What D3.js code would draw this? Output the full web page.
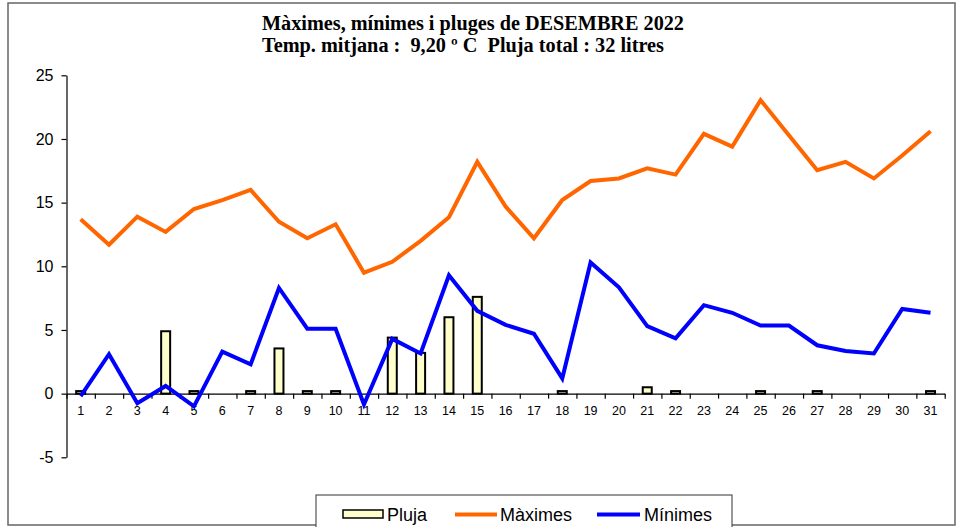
<!DOCTYPE html>
<html>
<head>
<meta charset="utf-8">
<script src="https://cdn.jsdelivr.net/npm/d3@7"></script>
<style>
  body { margin: 0; background: #fff; }
  svg { display: block; }
  .tick text { font-family: Arial, "Liberation Sans", sans-serif; fill: #000; }
</style>
</head>
<body>
<svg id="chart" width="962" height="527"></svg>
<script>
// Data
const days = d3.range(1, 32).map(String);
const maximes = [13.7, 11.7, 13.9, 12.7, 14.5, 15.2, 16.0, 13.5, 12.2, 13.3,
  9.5, 10.35, 12.0, 13.85, 18.2, 14.7, 12.2, 15.2, 16.7, 16.9,
  17.7, 17.2, 20.4, 19.4, 23.05, 20.3, 17.55, 18.2, 16.9, 18.7, 20.6];
const minimes = [-0.2, 3.1, -0.75, 0.6, -1.0, 3.3, 2.3, 8.3, 5.1, 5.1,
  -0.85, 4.3, 3.15, 9.3, 6.5, 5.4, 4.7, 1.2, 10.3, 8.35,
  5.3, 4.35, 6.95, 6.35, 5.35, 5.35, 3.8, 3.35, 3.15, 6.65, 6.35];
const pluja = [0.2, 0, 0, 4.9, 0.2, 0, 0.2, 3.55, 0.2, 0.2,
  0, 4.4, 3.2, 6.0, 7.6, 0, 0, 0.2, 0, 0,
  0.5, 0.2, 0, 0, 0.2, 0, 0.2, 0, 0, 0, 0.2];
const yTicks = [-5, 0, 5, 10, 15, 20, 25];
const titleLines = ["Màximes, mínimes i pluges de DESEMBRE 2022",
  "Temp. mitjana :  9,20 º C  Pluja total : 32 litres"];
const legendLabels = ["Pluja", "Màximes", "Mínimes"];

const colMax = "#ff6600", colMin = "#0000ff", colBar = "#ffffcc";

const svg = d3.select("#chart");

// outer frame
svg.append("rect")
  .attr("x", 8).attr("y", 3).attr("width", 947).attr("height", 522)
  .attr("fill", "none").attr("stroke", "#666").attr("stroke-width", 1.5);

// title
svg.selectAll("text.title").data(titleLines).join("text")
  .attr("class", "title")
  .attr("x", 262)
  .attr("y", (d, i) => i ? 52 : 30)
  .attr("textLength", (d, i) => i ? 402 : 422)
  .attr("lengthAdjust", "spacingAndGlyphs")
  .style("font-family", "'Liberation Serif', 'Times New Roman', serif")
  .style("font-weight", "bold")
  .style("font-size", "20px")
  .style("white-space", "pre")
  .attr("xml:space", "preserve")
  .text(d => d);

// scales
const x = d3.scaleBand().domain(days).range([66.5, 944.7]).padding(0);
const xEdge = d3.scaleLinear().domain([0, days.length]).range(x.range());
const y = d3.scaleLinear().domain([-5, 25]).range([457.3, 75.3]);

// y axis
svg.append("g")
  .attr("transform", "translate(66.5,0)")
  .call(d3.axisLeft(y).tickValues(yTicks).tickFormat(d => String(d)).tickSize(5).tickSizeOuter(0).tickPadding(8))
  .call(g => g.selectAll("text").style("font-size", "16px"))
  .call(g => g.selectAll("line, path").attr("stroke", "#000").attr("stroke-width", 1.2));

// x axis: boundary ticks
svg.append("g")
  .attr("transform", "translate(0," + y(0) + ")")
  .call(d3.axisBottom(xEdge).tickValues(d3.range(0, days.length + 1)).tickFormat("").tickSize(5).tickSizeOuter(0))
  .call(g => g.selectAll("line, path").attr("stroke", "#000").attr("stroke-width", 1.2));

// x axis: labels
svg.append("g")
  .attr("transform", "translate(0," + y(0) + ")")
  .call(d3.axisBottom(x).tickSize(0).tickPadding(12))
  .call(g => g.select(".domain").remove())
  .call(g => g.selectAll("text").style("font-size", "12.5px"));

// bars (pluja)
const bw = 9;
svg.append("g").selectAll("rect").data(pluja.map((v, i) => ({ d: days[i], v })).filter(p => p.v > 0))
  .join("rect")
  .attr("x", p => x(p.d) + x.bandwidth() / 2 - bw / 2)
  .attr("y", p => y(p.v))
  .attr("width", bw)
  .attr("height", p => y(0) - y(p.v))
  .attr("fill", colBar)
  .attr("stroke", "#000")
  .attr("stroke-width", 2);

// lines
const line = d3.line()
  .x((v, i) => x(days[i]) + x.bandwidth() / 2)
  .y(v => y(v));

svg.append("path").datum(maximes)
  .attr("d", line).attr("fill", "none")
  .attr("stroke", colMax).attr("stroke-width", 4).attr("stroke-linejoin", "miter");

svg.append("path").datum(minimes)
  .attr("d", line).attr("fill", "none")
  .attr("stroke", colMin).attr("stroke-width", 4).attr("stroke-linejoin", "miter");

// legend
const leg = svg.append("g");
leg.append("rect")
  .attr("x", 316).attr("y", 495).attr("width", 416).attr("height", 40)
  .attr("fill", "#fff").attr("stroke", "#333").attr("stroke-width", 1);

leg.append("rect")
  .attr("x", 343).attr("y", 510).attr("width", 40).attr("height", 8)
  .attr("fill", colBar).attr("stroke", "#000").attr("stroke-width", 1.5);
leg.append("line")
  .attr("x1", 455).attr("x2", 497).attr("y1", 514.5).attr("y2", 514.5)
  .attr("stroke", colMax).attr("stroke-width", 4);
leg.append("line")
  .attr("x1", 597).attr("x2", 640).attr("y1", 514.5).attr("y2", 514.5)
  .attr("stroke", colMin).attr("stroke-width", 4);

leg.selectAll("text").data(legendLabels).join("text")
  .attr("x", (d, i) => [387, 500, 644][i])
  .attr("y", 521)
  .style("font-family", "Arial, 'Liberation Sans', sans-serif")
  .style("font-size", "18px")
  .text(d => d);
</script>
</body>
</html>
